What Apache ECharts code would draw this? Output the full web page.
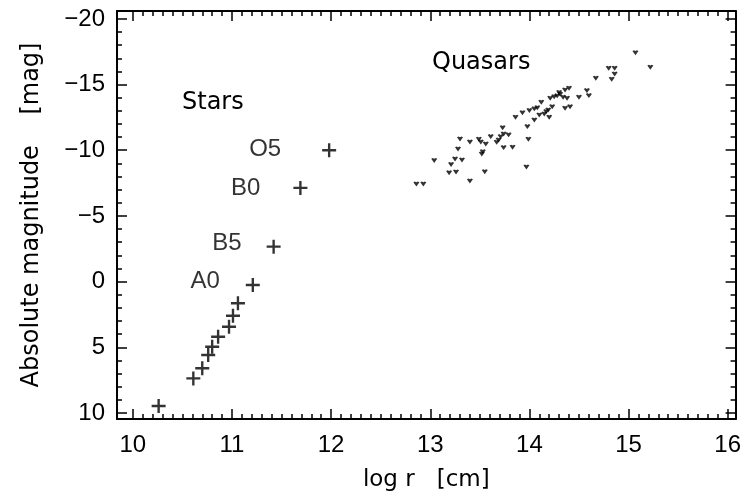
<!DOCTYPE html>
<html>
<head>
<meta charset="utf-8">
<script src="https://cdn.jsdelivr.net/npm/echarts@6/dist/echarts.min.js"></script>
<style>
  html, body { margin: 0; padding: 0; background: #fff; }
  #chart { width: 744px; height: 500px; }
</style>
</head>
<body>
<div id="chart"></div>
<script>
// --- data ---
var starLogR = [10.26, 10.61, 10.70, 10.76, 10.80, 10.86, 10.97, 11.01, 11.06, 11.21, 11.42, 11.69, 11.98];
var starMag  = [9.47, 7.37, 6.60, 5.59, 4.96, 4.20, 3.44, 2.60, 1.65, 0.26, -2.66, -7.13, -10.0];
var starTypes = ['', '', '', '', '', '', '', '', '', 'A0', 'B5', 'B0', 'O5'];

var quasarLogR = [12.86, 12.93, 13.04, 13.19, 13.26, 13.21, 13.25, 13.32, 13.28, 13.30,
                  13.40, 13.40, 13.49, 13.51, 13.52, 13.53, 13.55, 13.56, 13.61, 13.67,
                  13.69, 13.71, 13.73, 13.74, 13.74, 13.79, 13.83, 13.86, 13.93, 13.97,
                  13.98, 13.99, 14.00, 14.05, 14.05, 14.08, 14.10, 14.12, 14.15, 14.17,
                  14.19, 14.20, 14.21, 14.23, 14.25, 14.28, 14.30, 14.31, 14.34, 14.36,
                  14.36, 14.38, 14.40, 14.41, 14.50, 14.58, 14.60, 14.67, 14.80, 14.86,
                  14.86, 14.83, 15.07, 15.22];
var quasarMag  = [-7.43, -7.43, -9.22, -8.29, -8.35, -8.92, -9.34, -9.26, -10.10, -10.86,
                  -10.63, -7.66, -10.84, -10.63, -9.72, -9.89, -8.37, -10.48, -11.04, -10.61,
                  -10.78, -11.04, -11.72, -11.24, -10.20, -11.17, -10.23, -12.51, -12.86, -8.73,
                  -11.80, -10.84, -13.02, -12.31, -13.15, -13.24, -12.69, -13.66, -12.76, -12.94,
                  -13.07, -12.51, -13.96, -13.32, -14.08, -14.14, -14.39, -14.27, -14.04, -13.20,
                  -14.59, -13.96, -14.72, -13.32, -14.04, -14.54, -14.16, -15.48, -16.25, -16.25,
                  -15.81, -15.41, -17.43, -16.32];

var xTicks = [10, 11, 12, 13, 14, 15, 16];
var yTicks = [-20, -15, -10, -5, 0, 5, 10];

// minor ticks between the major ones
var xMinor = [];
for (var i = 0; i < xTicks.length - 1; i++) {
    for (var k = 1; k < 10; k++) xMinor.push(+(xTicks[i] + k * 0.1).toFixed(2));
}
var yMinor = [];
for (var j = 0; j < yTicks.length - 1; j++) {
    for (var m = 1; m < 5; m++) yMinor.push(yTicks[j] + m);
}

var NUMFONT = '"Liberation Sans", Arial, sans-serif';
var TXTFONT = '"DejaVu Sans", sans-serif';
var XMIN = 9.84, XMAX = 16.08, YMIN = -20.6, YMAX = 10.46;

// label placement for the spectral types (style, not data)
var typeLabel = {
    'O5': { distance: 41, offset: [0, -1] },
    'B0': { distance: 33, offset: [0, 0] },
    'B5': { distance: 25, offset: [0, -3] },
    'A0': { distance: 26, offset: [0, -4] }
};

var starData = starLogR.map(function (x, i) {
    var item = { value: [x, starMag[i]] };
    var t = starTypes[i];
    if (t) {
        item.label = {
            show: true, formatter: t, position: 'left',
            distance: typeLabel[t].distance, offset: typeLabel[t].offset,
            color: '#000', fontSize: 24, fontFamily: NUMFONT
        };
    }
    return item;
});
var quasarData = quasarLogR.map(function (x, i) { return [x, quasarMag[i]]; });

function xAx(pos, values, len, labels, line) {
    return {
        type: 'value', position: pos, min: XMIN, max: XMAX,
        splitLine: { show: false },
        axisLine: { show: line, onZero: false, lineStyle: { color: '#000', width: 2 } },
        axisTick: { show: true, inside: true, length: len, customValues: values, lineStyle: { color: '#000', width: 1.5 } },
        axisLabel: labels ? {
            show: true, customValues: values, color: '#000', fontSize: 24, fontFamily: NUMFONT, margin: 14
        } : { show: false }
    };
}
function yAx(pos, values, len, labels, line) {
    return {
        type: 'value', position: pos, min: YMIN, max: YMAX, inverse: true,
        splitLine: { show: false },
        axisLine: { show: line, onZero: false, lineStyle: { color: '#000', width: 2 } },
        axisTick: { show: true, inside: true, length: len, customValues: values, lineStyle: { color: '#000', width: 1.5 } },
        axisLabel: labels ? {
            show: true, customValues: values, color: '#000', fontSize: 24, fontFamily: NUMFONT, margin: 12,
            formatter: function (v) { return String(v).replace('-', '\u2212'); }
        } : { show: false }
    };
}

var xAxes = [xAx('bottom', xTicks, 10, true, true), xAx('bottom', xMinor, 5, false, false),
             xAx('top', xTicks, 10, false, true), xAx('top', xMinor, 5, false, false)];
xAxes[0].name = 'log r   [cm]';
xAxes[0].nameLocation = 'middle';
xAxes[0].nameGap = 50;
xAxes[0].nameTextStyle = { color: '#000', fontSize: 23, fontFamily: TXTFONT };

var yAxes = [yAx('left', yTicks, 10, true, true), yAx('left', yMinor, 5, false, false),
             yAx('right', yTicks, 10, false, true), yAx('right', yMinor, 5, false, false)];
yAxes[0].name = 'Absolute magnitude    [mag]';
yAxes[0].nameLocation = 'middle';
yAxes[0].nameRotate = 90;
yAxes[0].nameGap = 73;
yAxes[0].nameTextStyle = { color: '#000', fontSize: 24, fontFamily: TXTFONT };

var chart = echarts.init(document.getElementById('chart'));
chart.setOption({
    animation: false,
    backgroundColor: '#fff',
    grid: { left: 117, right: 2, top: 11, bottom: 81, containLabel: false },
    xAxis: xAxes,
    yAxis: yAxes,
    graphic: [
        { type: 'text', left: 182, top: 91, style: { text: 'Stars', fill: '#000', fontSize: 24, fontFamily: TXTFONT } },
        { type: 'text', left: 432, top: 51, style: { text: 'Quasars', fill: '#000', fontSize: 24, fontFamily: TXTFONT } }
    ],
    series: [
        {
            name: 'Stars', type: 'scatter', xAxisIndex: 0, yAxisIndex: 0,
            symbol: 'path://M0,5.4H13V7.6H0Z M5.4,0H7.6V13H5.4Z', symbolSize: 14,
            itemStyle: { color: '#000' },
            data: starData
        },
        {
            name: 'Quasars', type: 'scatter', xAxisIndex: 0, yAxisIndex: 0,
            symbol: 'path://M0,0.8L1.5,0L3,0.8L4.5,0L6,0.8L3,5Z', symbolSize: [6, 5],
            itemStyle: { color: '#000' },
            data: quasarData
        }
    ]
});
</script>
</body>
</html>
